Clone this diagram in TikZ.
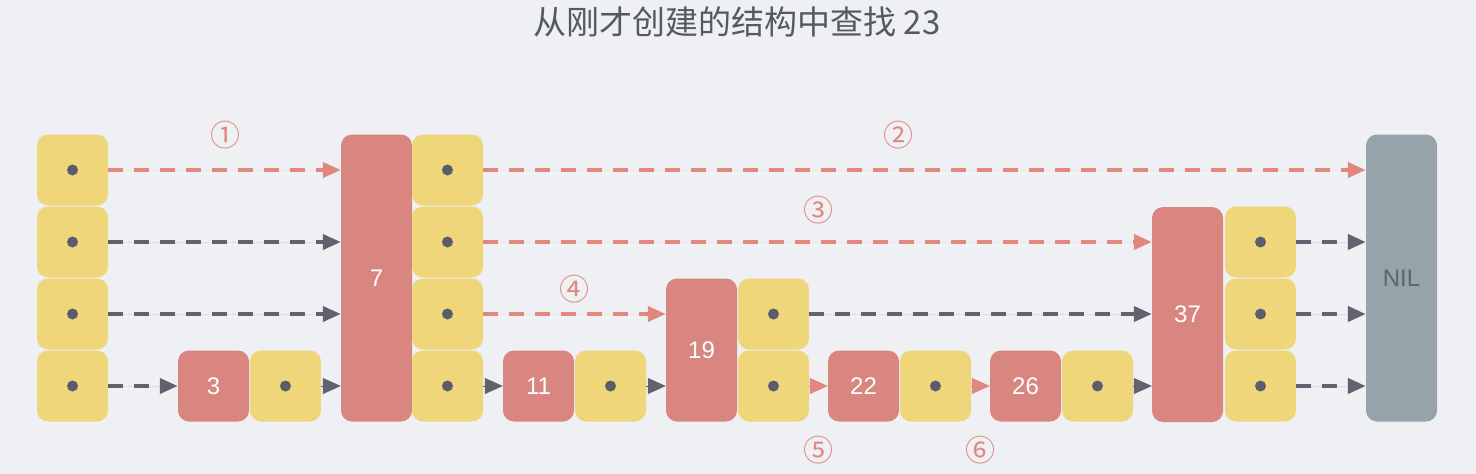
\documentclass[tikz,border=0pt]{standalone}
\usepackage{fontspec}
\newfontfamily\cjk{Noto Sans CJK SC}
\newfontfamily\numf{Liberation Sans}
\usetikzlibrary{arrows.meta}
\definecolor{bgc}{HTML}{EFF0F4}
\definecolor{yelc}{HTML}{EFD67A}
\definecolor{redc}{HTML}{D98580}
\definecolor{nilc}{HTML}{97A3AB}
\definecolor{dotc}{HTML}{5C5C6B}
\definecolor{garr}{HTML}{62626F}
\definecolor{rarr}{HTML}{E0877E}
\definecolor{titc}{HTML}{555A62}
\definecolor{nilt}{HTML}{5E6670}
\tikzset{
  cellbase/.style={rounded corners=11pt, inner sep=0pt, minimum width=71pt},
  ycell/.style={cellbase, fill=yelc, minimum height=71pt,
    path picture={\fill[dotc] (path picture bounding box.center) circle (5.5pt);}},
  rbox/.style={cellbase, fill=redc, text=white, font=\numf\fontsize{24}{26}\selectfont},
  nbox/.style={cellbase, fill=nilc, text=nilt, font=\numf\fontsize{24}{26}\selectfont},
  dline/.style={line width=4pt, dash pattern=on 15pt off 11pt, -{Triangle[length=18pt,width=15pt]}},
  gdash/.style={dline, draw=garr, fill=garr},
  rdash/.style={dline, draw=rarr, fill=rarr},
  ghead/.style={line width=1pt, draw=garr, -{Triangle[length=18pt,width=16pt,fill=garr]}},
  rhead/.style={line width=1pt, draw=rarr, -{Triangle[length=18pt,width=16pt,fill=rarr]}},
  steplab/.style={text=rarr, font=\cjk\fontsize{30}{32}\selectfont, inner sep=0pt},
}
\begin{document}
\begin{tikzpicture}[x=1pt,y=-1pt]
\fill[bgc] (0,0) rectangle (1476,474);
\useasboundingbox (0,0) rectangle (1476,474);
\node[text=titc, font=\cjk\fontsize{33}{36}\selectfont, inner sep=0pt] (title) at (737,22) {从刚才创建的结构中查找 23};
% header column
\node[ycell] (h1) at (72.5,170) {};
\node[ycell] (h2) at (72.5,242) {};
\node[ycell] (h3) at (72.5,314) {};
\node[ycell] (h4) at (72.5,386) {};
% 3
\node[rbox, minimum height=71pt] (r3) at (213.5,386) {3};
\node[ycell] (y3) at (285.5,386) {};
% 7
\node[rbox, minimum height=287pt] (r7) at (376.5,278) {7};
\node[ycell] (y7a) at (447.5,170) {};
\node[ycell] (y7b) at (447.5,242) {};
\node[ycell] (y7c) at (447.5,314) {};
\node[ycell] (y7d) at (447.5,386) {};
% 11
\node[rbox, minimum height=71pt] (r11) at (538.5,386) {11};
\node[ycell] (y11) at (610.5,386) {};
% 19
\node[rbox, minimum height=143pt] (r19) at (701.5,350) {19};
\node[ycell] (y19a) at (773.5,314) {};
\node[ycell] (y19b) at (773.5,386) {};
% 22
\node[rbox, minimum height=71pt] (r22) at (863.5,386) {22};
\node[ycell] (y22) at (935.5,386) {};
% 26
\node[rbox, minimum height=71pt] (r26) at (1025.5,386) {26};
\node[ycell] (y26) at (1097.5,386) {};
% 37
\node[rbox, minimum height=215pt] (r37) at (1187.5,314.5) {37};
\node[ycell] (y37a) at (1260.5,242) {};
\node[ycell] (y37b) at (1260.5,314) {};
\node[ycell] (y37c) at (1260.5,386) {};
% NIL
\node[nbox, minimum height=287pt] (nil) at (1401.5,278) {NIL};
% row 1
\draw[rdash] (h1.east) -- (r7.west |- h1.east);
\draw[rdash] (y7a.east) -- (nil.west |- y7a.east);
% row 2
\draw[gdash] (h2.east) -- (r7.west |- h2.east);
\draw[rdash] (y7b.east) -- (r37.west |- y7b.east);
\draw[gdash] (y37a.east) -- (nil.west |- y37a.east);
% row 3
\draw[gdash] (h3.east) -- (r7.west |- h3.east);
\draw[rdash] (y7c.east) -- (r19.west |- y7c.east);
\draw[gdash] (y19a.east) -- (r37.west |- y19a.east);
\draw[gdash] (y37b.east) -- (nil.west |- y37b.east);
% row 4
\draw[gdash] (h4.east) -- (r3.west);
\draw[ghead] (y3.east) -- (r7.west |- y3.east);
\draw[ghead] (y7d.east) -- (r11.west);
\draw[ghead] (y11.east) -- (r19.west |- y11.east);
\draw[rhead] (y19b.east) -- (r22.west);
\draw[rhead] (y22.east) -- (r26.west);
\draw[ghead] (y26.east) -- (r37.west |- y26.east);
\draw[gdash] (y37c.east) -- (nil.west |- y37c.east);
% step labels
\node[steplab] (s1) at (225,135) {①};
\node[steplab] (s2) at (898,135) {②};
\node[steplab] (s3) at (818,210) {③};
\node[steplab] (s4) at (574,289) {④};
\node[steplab] (s5) at (818,450) {⑤};
\node[steplab] (s6) at (980,450) {⑥};
\end{tikzpicture}
\end{document}
